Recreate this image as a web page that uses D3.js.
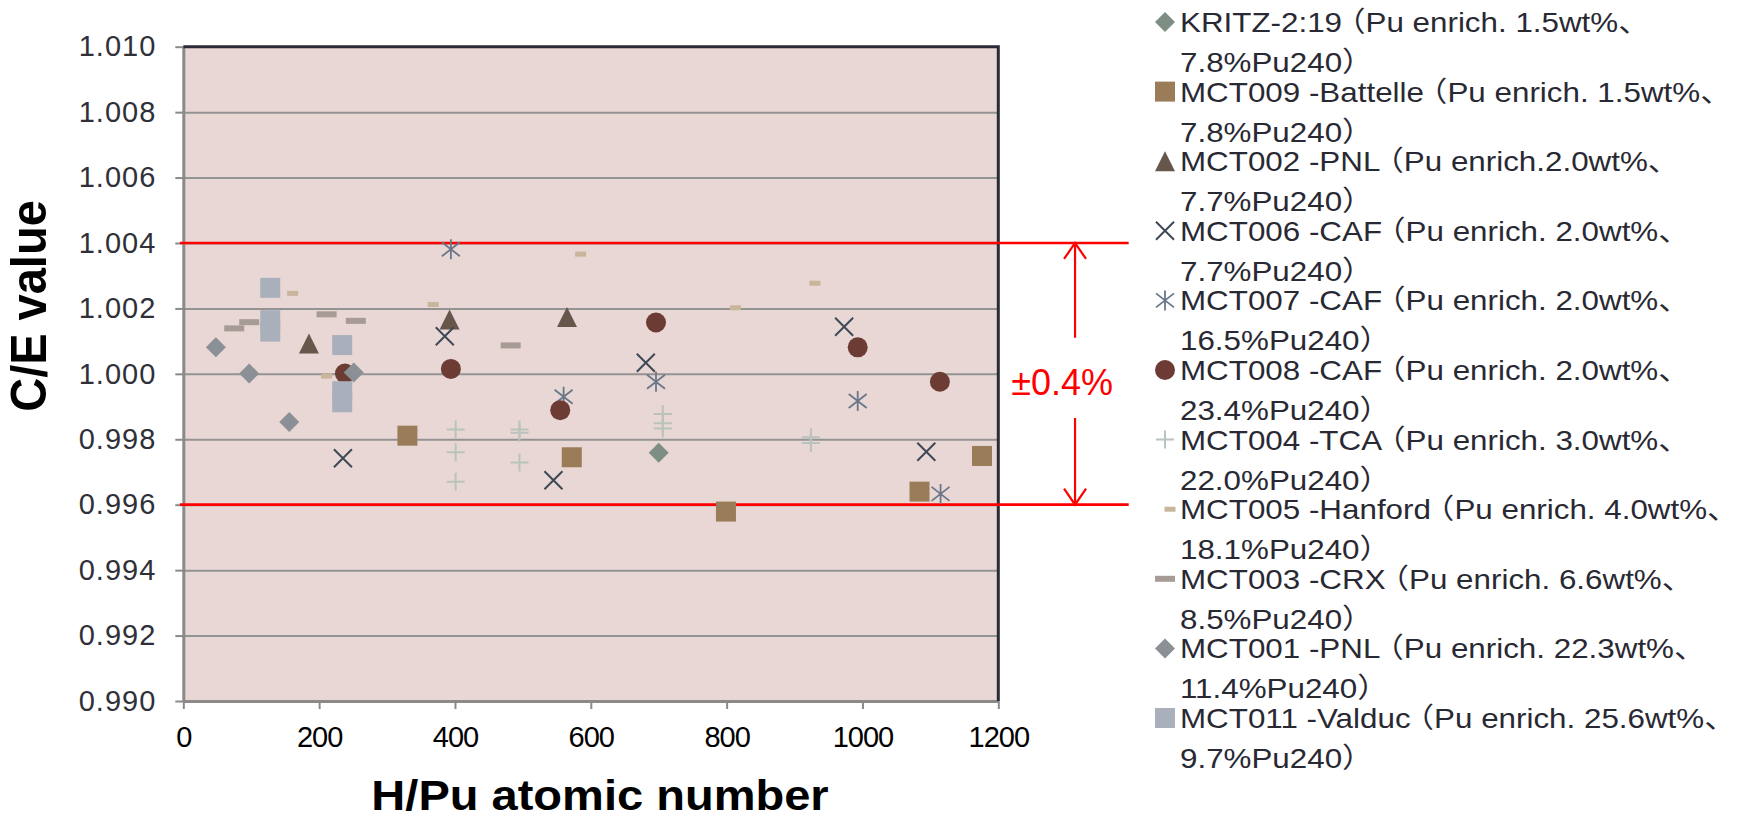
<!DOCTYPE html>
<html>
<head>
<meta charset="utf-8">
<script src="https://cdn.jsdelivr.net/npm/d3@7"></script>
<style>
  body { margin: 0; background: #fff; }
  svg { display: block; font-family: "Liberation Sans", Arial, "Noto Sans CJK JP", sans-serif; }
</style>
</head>
<body>
<div id="chart"></div>
<script>
// axis ticks
const xTicks = [0, 200, 400, 600, 800, 1000, 1200];
const yTicks = [0.990, 0.992, 0.994, 0.996, 0.998, 1.000, 1.002, 1.004, 1.006, 1.008, 1.010];

// points: [H/Pu, C/E]
const kritz = [[700, 0.99759]];
const mct009 = [[330, 0.99811], [572, 0.99745], [799, 0.99579], [1084, 0.99640], [1176, 0.99749]];
const mct002 = [[185, 1.00093], [392, 1.00166], [565, 1.00174]];
const mct006 = [[235, 0.99742], [385, 1.00115], [545, 0.99675], [681, 1.00034], [973, 1.00144], [1094, 0.99762]];
const mct007 = [[394, 1.00381], [560, 0.99930], [696, 0.99976], [993, 0.99917], [1115, 0.99633]];
const mct008 = [[238, 1.00001], [394, 1.00015], [555, 0.99889], [696, 1.00157], [993, 1.00081], [1114, 0.99976]];
const mct004 = [[401, 0.99830], [401, 0.99760], [401, 0.99670], [495, 0.99830], [495, 0.99820], [495, 0.99729],
                [706, 0.99877], [706, 0.99849], [706, 0.99833], [924, 0.99806], [924, 0.99789]];
const mct005 = [[161, 1.00246], [211, 0.99993], [368, 1.00212], [585, 1.00366], [813, 1.00202], [930, 1.00277]];
const mct003 = [[75, 1.00139], [97, 1.00158], [211, 1.00182], [254, 1.00162], [482, 1.00087]];
const mct001 = [[48, 1.00081], [97, 1.00001], [156, 0.99853], [251, 1.00004]];
const mct011 = [[128, 1.00263], [128, 1.00164], [128, 1.00129], [234, 1.00088], [234, 0.99947], [234, 0.99913]];

const seriesNames = [
  "KRITZ-2:19（Pu enrich. 1.5wt%、",
  "MCT009 -Battelle（Pu enrich. 1.5wt%、",
  "MCT002 -PNL（Pu enrich.2.0wt%、",
  "MCT006 -CAF（Pu enrich. 2.0wt%、",
  "MCT007 -CAF（Pu enrich. 2.0wt%、",
  "MCT008 -CAF（Pu enrich. 2.0wt%、",
  "MCT004 -TCA（Pu enrich. 3.0wt%、",
  "MCT005 -Hanford（Pu enrich. 4.0wt%、",
  "MCT003 -CRX（Pu enrich. 6.6wt%、",
  "MCT001 -PNL（Pu enrich. 22.3wt%、",
  "MCT011 -Valduc（Pu enrich. 25.6wt%、"
];
const seriesNotes = [
  "7.8%Pu240）", "7.8%Pu240）", "7.7%Pu240）", "7.7%Pu240）", "16.5%Pu240）", "23.4%Pu240）",
  "22.0%Pu240）", "18.1%Pu240）", "8.5%Pu240）", "11.4%Pu240）", "9.7%Pu240）"
];
const seriesData = [kritz, mct009, mct002, mct006, mct007, mct008, mct004, mct005, mct003, mct001, mct011];
const seriesShapes = ["diamond", "square", "triangle", "x", "asterisk", "circle", "plus", "dashS", "dashL", "diamond", "square"];
const seriesColors = ["#7e8e84", "#9a7d58", "#67574b", "#3e4856", "#6a7789", "#6c3b33",
                      "#b9c3bb", "#c8b59b", "#a79b96", "#8b9096", "#a9b0bb"];

const series = seriesNames.map((name, i) => ({
  name, note: seriesNotes[i], data: seriesData[i], shape: seriesShapes[i], color: seriesColors[i]
}));

const svg = d3.select("#chart").append("svg").attr("width", 1752).attr("height", 818);

const x = d3.scaleLinear().domain([0, 1200]).range([183.3, 998.3]);
const y = d3.scaleLinear().domain([0.990, 1.010]).range([701, 46.7]);
const plotW = x(1200) - x(0);

// plot area
svg.append("rect")
  .attr("x", x(0)).attr("y", y(1.010))
  .attr("width", plotW).attr("height", y(0.990) - y(1.010))
  .attr("fill", "#e8d7d4");

// gridlines
svg.append("g")
  .attr("transform", `translate(${x(0)},0)`)
  .call(d3.axisLeft(y).tickValues(yTicks.slice(1, -1)).tickSize(-plotW).tickFormat(""))
  .call(g => g.select(".domain").remove())
  .call(g => g.selectAll("line").attr("stroke", "#939393").attr("stroke-width", 2));

// y axis
svg.append("g")
  .attr("transform", `translate(${x(0)},0)`)
  .call(d3.axisLeft(y).tickValues(yTicks).tickFormat(d3.format(".3f")).tickSize(8).tickSizeOuter(0).tickPadding(19))
  .call(g => g.select(".domain").attr("stroke", "#8a8a8a").attr("stroke-width", 3))
  .call(g => g.selectAll(".tick line").attr("stroke", "#8a8a8a").attr("stroke-width", 2))
  .call(g => g.selectAll("text").attr("font-size", 29).attr("fill", "#303038")
    .attr("letter-spacing", "1px").attr("font-family", null));

// x axis
svg.append("g")
  .attr("transform", `translate(0,${y(0.990)})`)
  .call(d3.axisBottom(x).tickValues(xTicks).tickFormat(d3.format("d")).tickSize(8).tickSizeOuter(0).tickPadding(17))
  .call(g => g.select(".domain").attr("stroke", "#8a8a8a").attr("stroke-width", 3))
  .call(g => g.selectAll(".tick line").attr("stroke", "#8a8a8a").attr("stroke-width", 2))
  .call(g => g.selectAll("text").attr("font-size", 29).attr("fill", "#000")
    .attr("letter-spacing", "-1px").attr("font-family", null));

// top and right border
svg.append("path")
  .attr("d", `M${x(0)},${y(1.010)}H${x(1200)}V${y(0.990)}`)
  .attr("fill", "none").attr("stroke", "#2b2b36").attr("stroke-width", 3);

// ±0.4% band
const red = "#ff0000";
[1.004, 0.996].forEach(v => {
  svg.append("line")
    .attr("x1", x(-5)).attr("x2", x(1392))
    .attr("y1", y(v)).attr("y2", y(v))
    .attr("stroke", red).attr("stroke-width", 2.7);
});
const ax = x(1313);
svg.append("path")
  .attr("d", `M${ax},${y(1.0011)}V${y(1.004)}M${ax - 11},${y(1.004) + 16}L${ax},${y(1.004)}L${ax + 11},${y(1.004) + 16}` +
             `M${ax},${y(0.99865)}V${y(0.996)}M${ax - 11},${y(0.996) - 16}L${ax},${y(0.996)}L${ax + 11},${y(0.996) - 16}`)
  .attr("fill", "none").attr("stroke", red).attr("stroke-width", 2.2);
svg.append("text")
  .attr("x", ax - 13).attr("y", y(0.99935))
  .attr("text-anchor", "middle").attr("font-size", 36).attr("fill", red)
  .text("±0.4%");

// markers
function markerPath(shape) {
  switch (shape) {
    case "diamond": return "M0,-10L10,0L0,10L-10,0Z";
    case "square": return "M-10,-10H10V10H-10Z";
    case "triangle": return "M0,-10L10,10L-10,10Z";
    case "circle": return d3.symbol(d3.symbolCircle, Math.PI * 100)();
    case "x": return "M-9,-9L9,9M-9,9L9,-9";
    case "asterisk": return "M-9,-7L9,7M-9,7L9,-7M0,-10V10";
    case "plus": return "M-9,0H9M0,-9V9";
    case "dashS": return "M-5.5,-2.5H5.5V2.5H-5.5Z";
    case "dashL": return "M-10,-3H10V3H-10Z";
  }
}
const stroked = new Set(["x", "asterisk", "plus"]);

function styleMarker(sel, s) {
  sel.attr("d", markerPath(s.shape));
  if (stroked.has(s.shape)) {
    sel.attr("fill", "none").attr("stroke", s.color).attr("stroke-width", s.shape === "asterisk" ? 1.8 : 2);
  } else {
    sel.attr("fill", s.color);
  }
}

series.forEach(s => {
  svg.append("g").selectAll("path")
    .data(s.data)
    .enter().append("path")
    .attr("transform", d => `translate(${x(d[0])},${y(d[1])})`)
    .call(sel => styleMarker(sel, s));
});

// legend
const legend = svg.append("g");
series.forEach((s, i) => {
  const cy = 22 + i * 69.6;
  legend.append("path")
    .attr("transform", `translate(${s.shape === "dashS" ? 1170 : 1165},${cy})`)
    .call(sel => styleMarker(sel, s));

  const tg = legend.append("g").attr("transform", `translate(1180,${cy + 10}) scale(1.12,1)`);
  const t1 = tg.append("text").attr("font-size", 28).attr("fill", "#292933");
  s.name.split(/(（)/).filter(p => p).forEach(p => {
    const ts = t1.append("tspan").text(p);
    if (p === "（") ts.attr("dx", -7);
  });
  tg.append("text").attr("y", 40).attr("font-size", 28).attr("fill", "#292933").text(s.note);
});

// axis titles
svg.append("text")
  .attr("transform", "translate(600,810) scale(1.12,1)")
  .attr("text-anchor", "middle").attr("font-size", 42).attr("font-weight", "bold")
  .text("H/Pu atomic number");

svg.append("text")
  .attr("transform", "translate(46,306) scale(1.08,1) rotate(-90)")
  .attr("text-anchor", "middle").attr("font-size", 47).attr("font-weight", "bold")
  .text("C/E value");
</script>
</body>
</html>
